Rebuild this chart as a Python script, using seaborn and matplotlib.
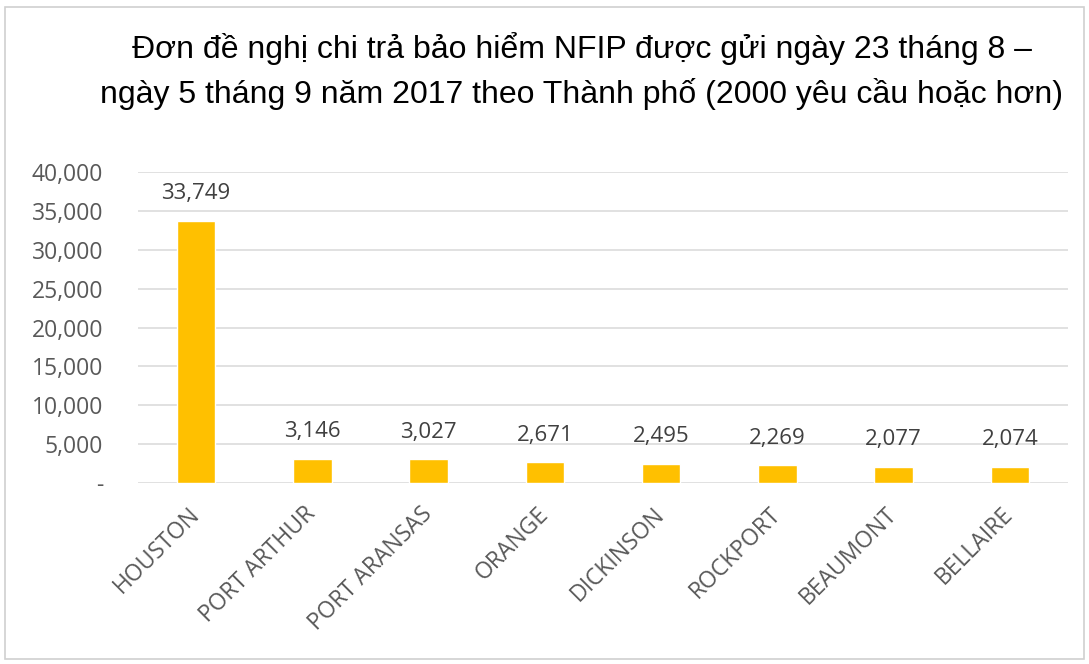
import matplotlib
matplotlib.use("Agg")
import matplotlib.pyplot as plt
import seaborn as sns
import pandas as pd
from matplotlib.patches import Rectangle
from matplotlib.ticker import FuncFormatter

cities = ["HOUSTON", "PORT ARTHUR", "PORT ARANSAS", "ORANGE", "DICKINSON",
          "ROCKPORT", "BEAUMONT", "BELLAIRE"]
claims = [33749, 3146, 3027, 2671, 2495, 2269, 2077, 2074]
title_line1 = "Đơn đề nghị chi trả bảo hiểm NFIP được gửi ngày 23 tháng 8 –"
title_line2 = "ngày 5 tháng 9 năm 2017 theo Thành phố (2000 yêu cầu hoặc hơn)"

df = pd.DataFrame({"city": cities, "claims": claims})

sns.set_theme(style="white")
plt.rcParams["font.family"] = ["Open Sans", "DejaVu Sans"]

fig = plt.figure(figsize=(10.89, 6.64), dpi=100)
ax = fig.add_axes([138/1089, 1-483/664, (1068-138)/1089, (483-172)/664])

sns.barplot(data=df, x="city", y="claims", color="#FFC000", width=0.33,
            saturation=1, ax=ax, zorder=3)

ax.set_ylim(0, 40000)
ax.set_xlim(-0.5, len(cities) - 0.5)
ax.set_yticks(range(0, 40001, 5000))
ax.yaxis.set_major_formatter(FuncFormatter(lambda v, p: "-" if v == 0 else f"{int(v):,}"))
ax.grid(axis="y", color="#d9d9d9", linewidth=1.1, zorder=0)
ax.set_axisbelow(True)
for s in ax.spines.values():
    s.set_visible(False)
ax.set_xlabel("")
ax.set_ylabel("")
ax.tick_params(axis="y", length=0, pad=25, labelsize=16.5, labelcolor="#595959")
ax.tick_params(axis="x", length=0, pad=20, labelsize=16.5, labelcolor="#595959")
for lab in ax.get_yticklabels():
    lab.set_horizontalalignment("right")
for lab in ax.get_xticklabels():
    lab.set_rotation(45)
    lab.set_horizontalalignment("right")
    lab.set_verticalalignment("center")
    lab.set_rotation_mode("anchor")

for c in ax.containers:
    ax.bar_label(c, labels=[f"{int(v):,}" for v in c.datavalues], padding=12,
                 fontsize=16, color="#404040")

tfont = dict(ha="center", va="center", fontsize=23,
             family=["Liberation Sans", "DejaVu Sans"], color="#000000")
fig.text(582/1089, 1-49/664, title_line1, **tfont)
fig.text(582/1089, 1-94/664, title_line2, **tfont)

fig.patches.append(Rectangle((5/1089, 1-659/664), 1079/1089, 652/664,
                             transform=fig.transFigure, fill=False,
                             edgecolor="#d0d0d0", linewidth=1.2))

fig.savefig("out.png", dpi=100)
